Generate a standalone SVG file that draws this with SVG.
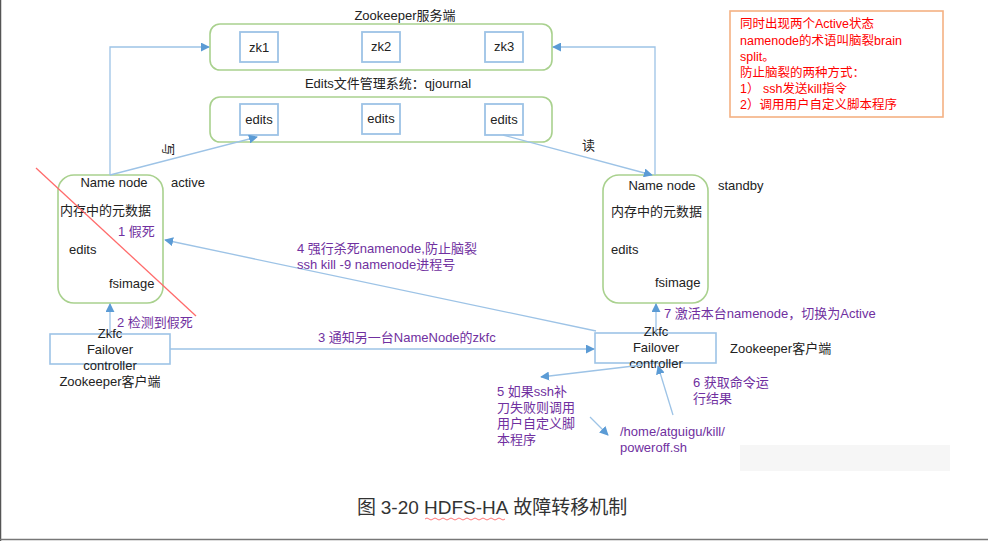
<svg xmlns="http://www.w3.org/2000/svg" width="988" height="541" viewBox="0 0 988 541">
<defs>
<marker id="ah" viewBox="0 0 10 10" refX="9" refY="5" markerWidth="9" markerHeight="9" markerUnits="userSpaceOnUse" orient="auto"><path d="M0,0 L10,5 L0,10 z" fill="#5b9bd5"/></marker>
<style>
text{font-family:"Liberation Sans","Noto Sans CJK SC",sans-serif;font-size:13px;fill:#222}
.grp{fill:#fff;stroke:#a9d18e;stroke-width:1.6}
.sm{fill:#fff;stroke:#9dc3e6;stroke-width:1.8}
.zk{fill:#fff;stroke:#9dc3e6;stroke-width:1.6}
.c{stroke:#9dc3e6;stroke-width:1.3;fill:none}
.p{fill:#7030a0}
.r{fill:#ff0000;font-size:12.5px}
.m{text-anchor:middle}
</style>
</defs>
<rect x="0" y="0" width="988" height="541" fill="#fff"/>
<line x1="0.5" y1="0" x2="0.5" y2="541" stroke="#555" stroke-width="1.5"/>
<line x1="0" y1="539.5" x2="988" y2="539.5" stroke="#777" stroke-width="1.5"/>
<rect x="740" y="445" width="210" height="26" fill="#f6f6f6"/>

<g id="zk-server">
<text x="405" y="20" class="m">Zookeeper服务端</text>
<rect x="210" y="24" width="342" height="46" rx="10" class="grp"/>
<g id="zk1"><rect x="240" y="32" width="38" height="30" class="sm"/><text x="259" y="52" class="m">zk1</text></g>
<g id="zk2"><rect x="362" y="32" width="38" height="30" class="sm"/><text x="381" y="51" class="m">zk2</text></g>
<g id="zk3"><rect x="485" y="32" width="38" height="30" class="sm"/><text x="504" y="51" class="m">zk3</text></g>
</g>

<g id="qjournal">
<text x="388" y="88" class="m">Edits文件管理系统：qjournal</text>
<rect x="210" y="97" width="342" height="45" rx="10" class="grp"/>
<g id="edits1"><rect x="240" y="104" width="38" height="31" class="sm"/><text x="259" y="124" class="m">edits</text></g>
<g id="edits2"><rect x="362" y="104" width="38" height="30" class="sm"/><text x="381" y="123" class="m">edits</text></g>
<g id="edits3"><rect x="485" y="104" width="38" height="31" class="sm"/><text x="504" y="124" class="m">edits</text></g>
</g>

<g id="nn-active">
<rect x="58" y="175" width="105" height="128" rx="16" class="grp"/>
<text x="114" y="187" class="m">Name node</text>
<text x="171" y="187">active</text>
<text x="60" y="215">内存中的元数据</text>
<text x="118" y="236" class="p">1 假死</text>
<text x="69" y="254">edits</text>
<text x="109" y="288">fsimage</text>
</g>

<g id="nn-standby">
<rect x="603" y="175" width="105" height="128" rx="16" class="grp"/>
<text x="662" y="190" class="m">Name node</text>
<text x="718" y="190">standby</text>
<text x="611" y="216">内存中的元数据</text>
<text x="611" y="254">edits</text>
<text x="655" y="287">fsimage</text>
</g>

<g id="zkfc-left">
<rect x="50" y="334" width="120" height="30" class="zk"/>
<text x="110" y="338" class="m">Zkfc</text>
<text x="110" y="354" class="m">Failover</text>
<text x="110" y="370" class="m">controller</text>
<text x="110" y="386" class="m">Zookeeper客户端</text>
</g>

<g id="zkfc-right">
<rect x="595" y="333" width="121" height="30" class="zk"/>
<text x="656" y="336" class="m">Zkfc</text>
<text x="656" y="352" class="m">Failover</text>
<text x="656" y="368" class="m">controller</text>
<text x="730" y="353">Zookeeper客户端</text>
</g>

<g id="script">
<text x="620" y="436" class="p">/home/atguigu/kill/</text>
<text x="620" y="452" class="p">poweroff.sh</text>
</g>

<g id="note">
<rect x="730" y="11" width="213" height="106" fill="#fff" stroke="#f4b183" stroke-width="1.6"/>
<text x="740" y="28" class="r">同时出现两个Active状态</text>
<text x="740" y="45" class="r">namenode的术语叫脑裂brain</text>
<text x="740" y="61" class="r">split。</text>
<text x="740" y="77" class="r">防止脑裂的两种方式：</text>
<text x="740" y="93" class="r">1） ssh发送kill指令</text>
<text x="740" y="109" class="r">2）调用用户自定义脚本程序</text>
</g>

<g id="connectors">
<path d="M110,175 V47 H209" class="c" marker-end="url(#ah)"/>
<path d="M110,175 L257,137" class="c" marker-end="url(#ah)"/>
<path d="M503,135 L652,175" class="c" marker-end="url(#ah)"/>
<path d="M655,175 V47 H553" class="c" marker-end="url(#ah)"/>
<path d="M110,334 V304" class="c" marker-end="url(#ah)"/>
<path d="M170,349 H594" class="c" marker-end="url(#ah)"/>
<path d="M596,331 L165,240" class="c" marker-end="url(#ah)"/>
<path d="M656,333 V304" class="c" marker-end="url(#ah)"/>
<path d="M642,365 L541,377" class="c" marker-end="url(#ah)"/>
<path d="M590,417 L608,435" class="c" marker-end="url(#ah)"/>
<path d="M673,415 L658,366" class="c" marker-end="url(#ah)"/>
<line x1="36" y1="168" x2="196" y2="316" stroke="#ff6b6b" stroke-width="1.3"/>
<text x="0" y="0" transform="translate(164,143) rotate(90)">写</text>
<text x="582" y="150">读</text>
<text x="117" y="327" class="p">2 检测到假死</text>
<text x="318" y="342" class="p">3 通知另一台NameNode的zkfc</text>
<text x="297" y="253" class="p">4 强行杀死namenode,防止脑裂</text>
<text x="297" y="269" class="p">ssh kill -9 namenode进程号</text>
<text x="664" y="318" class="p">7 激活本台namenode，切换为Active</text>
<text x="497" y="396" class="p">5 如果ssh补</text>
<text x="497" y="412" class="p">刀失败则调用</text>
<text x="497" y="428" class="p">用户自定义脚</text>
<text x="497" y="444" class="p">本程序</text>
<text x="693" y="387" class="p">6 获取命令运</text>
<text x="693" y="403" class="p">行结果</text>
</g>

<g id="caption">
<text x="357" y="514" style="font-family:'Liberation Serif','Noto Sans CJK SC',serif;font-size:19px;fill:#333">图 <tspan style="font-family:'Liberation Sans','Noto Sans CJK SC',sans-serif">3-20 HDFS-HA</tspan> 故障转移机制</text>
<path d="M425,519 q2,-2 4,0 t4,0 t4,0 t4,0 t4,0 t4,0 t4,0 t4,0 t4,0 t4,0 t4,0 t4,0 t4,0 t4,0 t4,0 t4,0 t4,0 t4,0 t4,0 t4,0" fill="none" stroke="#ff5555" stroke-width="0.8"/>
</g>
</svg>
